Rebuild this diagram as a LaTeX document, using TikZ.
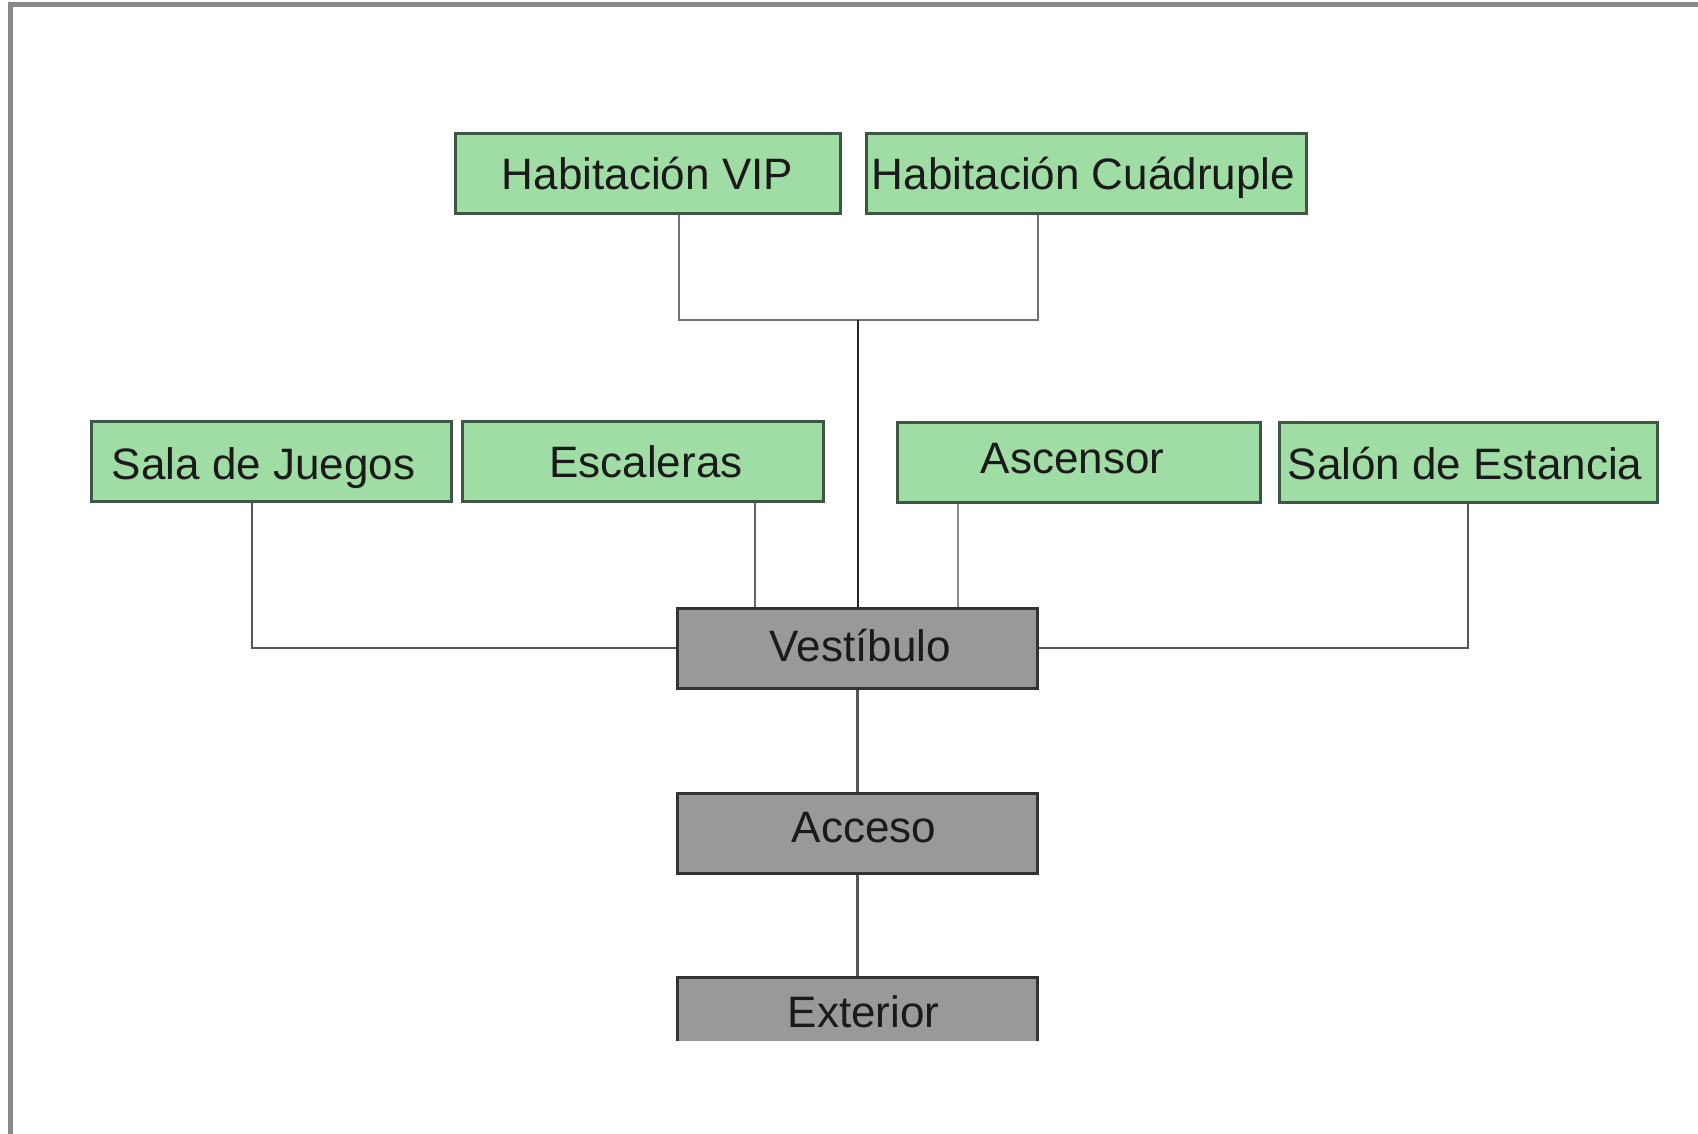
\documentclass[tikz,border=0pt]{standalone}
\usepackage{fontspec}
\setmainfont{Liberation Sans}
\usetikzlibrary{calc}
\definecolor{gfill}{HTML}{A0DDA5}
\definecolor{gline}{HTML}{3E5644}
\definecolor{dfill}{HTML}{999999}
\definecolor{dline}{HTML}{333333}
\definecolor{cline}{HTML}{555555}
\definecolor{frame}{HTML}{888888}
\definecolor{tcol}{HTML}{1A1A1A}
\begin{document}
\begin{tikzpicture}[x=1pt,y=-1pt,
  boxtext/.style={inner sep=0pt, minimum height=80pt, text height=31.5pt, text depth=0pt,
     text=tcol, font=\fontsize{44}{50}\selectfont},
  greenbox/.style={boxtext, draw=gline, fill=gfill, line width=3pt},
  graybox/.style={boxtext, draw=dline, fill=dfill, line width=3pt, minimum width=360pt},
  up/.style={text depth=#1},
  down/.style={text height=#1},
  conn/.style={draw=cline, line width=2.5pt},
  mainconn/.style={draw=black!85, line width=2.5pt}]
\useasboundingbox (0,0) rectangle (1698,1134);
\fill[white] (0,0) rectangle (1698,1134);
% frame (top and left edges)
\draw[frame, line width=5pt] (10,1134) -- (10,5) -- (1698,5);

% nodes
\node[greenbox, minimum width=385pt] (vip) at (647.5,174) {Habitación VIP};
\node[greenbox, minimum width=440pt] (quad) at (1086,174) {Habitación Cuádruple\kern5pt};
\node[greenbox, minimum width=360pt, down=35pt] (sala) at (271,461.5) {Sala de Juegos\kern15pt};
\node[greenbox, minimum width=361pt] (esc) at (643,461.5) {\kern6pt Escaleras};
\node[greenbox, minimum width=363pt, up=8.5pt] (asc) at (1078.5,462) {Ascensor\kern12pt};
\node[greenbox, minimum width=378pt, down=33pt] (salon) at (1468,462.5) {Salón de Estancia\kern6pt};
\node[graybox, up=5.5pt] (vest) at (857.5,648) {\kern6pt Vestíbulo};
\node[graybox, up=12pt] (acc) at (857.5,833) {\kern13pt Acceso};
\begin{scope}
  \clip (0,0) rectangle (1698,1040);
  \node[graybox, up=10pt] (ext) at (857.5,1017) {\kern12pt Exterior};
\end{scope}

% connectors
\coordinate (jtop) at (858,320);
\draw[conn, draw=black!55] (vip.south -| 679,0) |- (jtop) -| (quad.south -| 1038,0);
\draw[mainconn] (jtop) -- (vest.north -| jtop);
\draw[conn] (sala.south -| 252,0) |- (vest.west);
\draw[conn, draw=black!60] (esc.south -| 755,0) -- (vest.north -| 755,0);
\draw[conn, draw=black!45] (asc.south -| 958,0) -- (vest.north -| 958,0);
\draw[conn] (salon.south -| 1468,0) |- (vest.east);
\draw[conn] (vest.south) -- (acc.north);
\draw[conn] (acc.south) -- (ext.north);
\end{tikzpicture}
\end{document}
